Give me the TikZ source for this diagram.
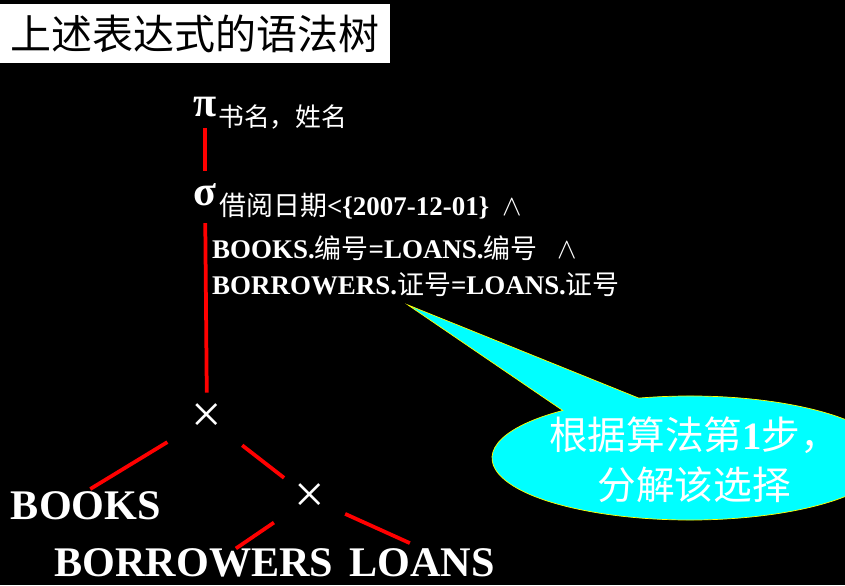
\documentclass[tikz,border=0pt]{standalone}
\usepackage{fontspec}
\setmainfont{Liberation Serif}
\newfontfamily\cjk{Noto Sans CJK SC}
\usetikzlibrary{calc}

\newcommand{\zh}[1]{{\cjk\mdseries #1}}

\begin{document}
\begin{tikzpicture}[
    x=0.03cm, y=0.03cm,
    every node/.style={inner sep=0pt},
]

% ---------------------------------------------------------------- colours
\definecolor{treered}{HTML}{FF0000}    % the tree edges
\definecolor{bubble}{HTML}{00FFFF}     % the callout
\definecolor{bubbleline}{HTML}{FFFF00}

% ================================================================
% one unit = one pixel of the 845 x 585 slide, y counted upwards
%   tree trunk at x = 206, root pi at y = 477, sigma at y = 388
%   the two products at (207,167) and (310,87)
%   leaves on two rows, y = 79 and y = 22
%   callout ellipse centred (690,127), radii 198 x 62, tail tip (408,280)
% ================================================================

\tikzset{
    op/.style={font=\bfseries\fontsize{36}{36}\selectfont, text=white},
    prod/.style={font=\fontsize{46}{46}\selectfont, text=white},
    cond/.style={font=\bfseries\fontsize{23}{28}\selectfont, text=white, anchor=west},
    leaf/.style={font=\bfseries\fontsize{36}{36}\selectfont, text=white},
    edge/.style={draw=treered, line width=3.2pt},
    title/.style={fill=white, text=black, minimum width=11.7cm, minimum height=1.77cm,
        font=\cjk\fontsize{35}{35}\selectfont},
    bubbletext/.style={font=\cjk\fontsize{33}{43}\selectfont, text=white, align=center},
}

\newcommand{\andsign}{{\mdseries\fontsize{32}{32}\selectfont$\wedge$}}

\useasboundingbox (0,0) rectangle (845,585);
\clip (0,0) rectangle (845,585);
\fill[black] (0,0) rectangle (845,585);

% ================================================================ title
\node[title] (title) at (195,551) {上述表达式的语法树};

% ================================================================ the tree
\node[op] (pi) at (205,478) {π};
\node[cond, font=\fontsize{22}{22}\selectfont] (attrs) at (218,468) {\zh{书名，姓名}};

\node[op] (sigma) at (205,390) {σ};
\node[cond] (cond1) at (219,379) {\zh{借阅日期}<\{2007-12-01\} \ \andsign};
\node[cond] (cond2) at (212,337) {BOOKS.\zh{编号}=LOANS.\zh{编号} \ \ \andsign};
\node[cond] (cond3) at (212,300) {BORROWERS.\zh{证号}=LOANS.\zh{证号}};

\node[prod] (x1) at (207,167) {×};
\node[prod] (x2) at (310,87) {×};

\node[leaf] (books)     at (86,79)  {BOOKS};
\node[leaf] (borrowers) at (194,22) {BORROWERS};
\node[leaf] (loans)     at (422,22) {LOANS};

% edges
\draw[edge, shorten <=0.33cm, shorten >=0.38cm] (pi) -- (sigma);
\draw[edge, shorten <=0.5cm, shorten >=0.32cm] (sigma) -- (x1);
\draw[edge, shorten <=0.85cm, shorten >=0.15cm] (x1) -- (books.north);
\draw[edge, shorten <=0.75cm, shorten >=0.4cm] (x1) -- (x2);
\draw[edge, shorten <=0.75cm] (x2) -- ($(borrowers.north)!0.3!(borrowers.north east)$);
\draw[edge, shorten <=0.65cm, shorten >=0.4cm] (x2) -- (loans.north);

% ================================================================ callout
\coordinate (bc) at (690,127);
\coordinate (tip) at (408,280);
\filldraw[fill=bubble, draw=bubbleline, line width=0.6pt]
    (tip) -- ($(bc)+(105:198 and 62)$)
    arc[start angle=105, end angle=-230, x radius=198, y radius=62] -- cycle;
\node[bubbletext] (note) at (694,125) {根据算法第{\rmfamily\bfseries 1}步，\\分解该选择};

\end{tikzpicture}
\end{document}
